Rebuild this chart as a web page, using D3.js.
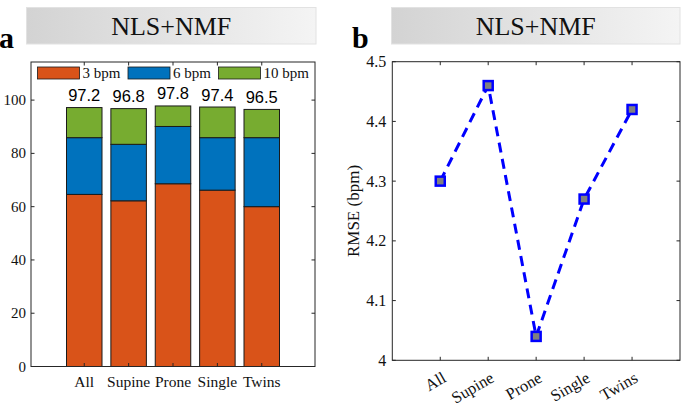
<!DOCTYPE html>
<html><head><meta charset="utf-8">
<script src="https://cdn.jsdelivr.net/npm/d3@7"></script>
<style>body{margin:0;background:#fff}svg{display:block}</style>
</head><body>
<svg id="c" width="685" height="407"></svg>
<script>
const categories = ["All","Supine","Prone","Single","Twins"];
const seriesNames = ["3 bpm","6 bpm","10 bpm"];
const bpm3 = [64.6, 62.2, 68.6, 66.2, 60.0];
const bpm6 = [21.3, 21.2, 21.5, 19.7, 25.9];
const bpm10 = [11.3, 13.4, 7.7, 11.5, 10.6];
const totalLabels = ["97.2","96.8","97.8","97.4","96.5"];
const yTicksA = [0,20,40,60,80,100];
const rmse = [4.30, 4.46, 4.04, 4.27, 4.42];
const yTicksB = [4, 4.1, 4.2, 4.3, 4.4, 4.5];
const colors = ["#D95319","#0072BD","#77AC30"];

const svg = d3.select("#c");
const serif = "'Liberation Serif','Times New Roman',serif";
const sans = "'Liberation Sans',Arial,sans-serif";
const axisCol = "#262626";

const defs = svg.append("defs");
const g = defs.append("linearGradient").attr("id","tg").attr("x1","0").attr("x2","1").attr("y1","0").attr("y2","0");
g.append("stop").attr("offset","0").attr("stop-color","#d3d3d3");
g.append("stop").attr("offset","1").attr("stop-color","#f4f4f4");

function titleBox(x0,x1,label,letter,lx){
  svg.append("rect").attr("x",x0).attr("y",7.5).attr("width",x1-x0).attr("height",36.5)
    .attr("fill","url(#tg)").attr("stroke","#e2e2e2").attr("stroke-width",1);
  svg.append("text").attr("x",(x0+x1)/2).attr("y",35).attr("text-anchor","middle")
    .attr("font-family",serif).attr("font-size",26).attr("fill","#111").text(label);
  svg.append("text").attr("x",lx).attr("y",48).attr("font-family",serif).attr("font-weight","bold")
    .attr("font-size",30).attr("fill","#000").text(letter);
}
titleBox(26.5,316,"NLS+NMF","a",-1);
titleBox(391.5,680,"NLS+NMF","b",352);

// ---------- Panel a ----------
const A = {l:31, r:315, t:62, b:366.5};
const xa = d3.scaleLinear().domain([-0.2,6.2]).range([A.l,A.r]);
const ya = d3.scaleLinear().domain([0,114.3]).range([A.b,A.t]);
const ga = svg.append("g");
const stackData = categories.map((c,i)=>({cat:c, s0:bpm3[i], s1:bpm6[i], s2:bpm10[i]}));
const stack = d3.stack().keys(["s0","s1","s2"])(stackData);
const bw = xa(0.8)-xa(0);
stack.forEach((layer,k)=>{
  ga.selectAll(null).data(layer).enter().append("rect")
    .attr("x",(d,i)=>xa(i+1)-bw/2).attr("width",bw)
    .attr("y",d=>ya(d[1])).attr("height",d=>ya(d[0])-ya(d[1]))
    .attr("fill",colors[k]).attr("stroke","#1a1a1a").attr("stroke-width",1);
});
ga.selectAll(null).data(stackData).enter().append("text")
  .attr("x",(d,i)=>xa(i+1)).attr("y",d=>ya(d.s0+d.s1+d.s2)-6.5)
  .attr("text-anchor","middle").attr("font-family",sans).attr("font-size",16.5).attr("fill","#000")
  .text((d,i)=>totalLabels[i]);
ga.append("rect").attr("x",A.l).attr("y",A.t).attr("width",A.r-A.l).attr("height",A.b-A.t)
  .attr("fill","none").attr("stroke",axisCol).attr("stroke-width",1);
yTicksA.forEach(v=>{
  const y = ya(v);
  ga.append("line").attr("x1",A.l).attr("x2",A.l+3.5).attr("y1",y).attr("y2",y).attr("stroke",axisCol);
  ga.append("line").attr("x1",A.r).attr("x2",A.r-3.5).attr("y1",y).attr("y2",y).attr("stroke",axisCol);
  ga.append("text").attr("x",A.l-5).attr("y",y+5).attr("text-anchor","end")
    .attr("font-family",serif).attr("font-size",15).attr("fill","#111").text(v);
});
categories.forEach((c,i)=>{
  const x = xa(i+1);
  ga.append("line").attr("x1",x).attr("x2",x).attr("y1",A.b).attr("y2",A.b-3.5).attr("stroke",axisCol);
  ga.append("line").attr("x1",x).attr("x2",x).attr("y1",A.t).attr("y2",A.t+3.5).attr("stroke",axisCol);
  ga.append("text").attr("x",x).attr("y",387).attr("text-anchor","middle")
    .attr("font-family",serif).attr("font-size",15.5).attr("fill","#111").text(c);
});
const legX = [37.5,128,218.5];
seriesNames.forEach((n,k)=>{
  ga.append("rect").attr("x",legX[k]).attr("y",67).attr("width",42).attr("height",12)
    .attr("fill",colors[k]).attr("stroke","#1a1a1a").attr("stroke-width",0.8);
  ga.append("text").attr("x",legX[k]+45).attr("y",78).attr("font-family",serif)
    .attr("font-size",15).attr("fill","#111").text(n);
});

// ---------- Panel b ----------
const B = {l:392.3, r:680, t:61.7, b:360.3};
const xb = d3.scaleLinear().domain([0,6]).range([B.l,B.r]);
const yb = d3.scaleLinear().domain([4,4.5]).range([B.b,B.t]);
const gb = svg.append("g");
gb.append("rect").attr("x",B.l).attr("y",B.t).attr("width",B.r-B.l).attr("height",B.b-B.t)
  .attr("fill","none").attr("stroke",axisCol).attr("stroke-width",1);
yTicksB.forEach(v=>{
  const y = yb(v);
  gb.append("line").attr("x1",B.l).attr("x2",B.l+3.5).attr("y1",y).attr("y2",y).attr("stroke",axisCol);
  gb.append("line").attr("x1",B.r).attr("x2",B.r-3.5).attr("y1",y).attr("y2",y).attr("stroke",axisCol);
  gb.append("text").attr("x",B.l-6).attr("y",y+5.5).attr("text-anchor","end")
    .attr("font-family",serif).attr("font-size",16).attr("fill","#111").text(d3.format("")(v));
});
categories.forEach((c,i)=>{
  const x = xb(i+1);
  gb.append("line").attr("x1",x).attr("x2",x).attr("y1",B.b).attr("y2",B.b-3.5).attr("stroke",axisCol);
  gb.append("line").attr("x1",x).attr("x2",x).attr("y1",B.t).attr("y2",B.t+3.5).attr("stroke",axisCol);
  gb.append("text").attr("transform",`translate(${x+7},${381}) rotate(-30)`).attr("text-anchor","end")
    .attr("font-family",serif).attr("font-size",16.5).attr("fill","#111").text(c);
});
gb.append("text").attr("transform",`translate(359,${(B.t+B.b)/2}) rotate(-90)`).attr("text-anchor","middle")
  .attr("font-family",serif).attr("font-size",17).attr("fill","#111").text("RMSE (bpm)");
const line = d3.line().x((d,i)=>xb(i+1)).y(d=>yb(d));
gb.append("path").attr("d",line(rmse)).attr("fill","none").attr("stroke","#0000ff")
  .attr("stroke-width",3).attr("stroke-dasharray","10,6.5");
gb.selectAll(null).data(rmse).enter().append("rect")
  .attr("x",(d,i)=>xb(i+1)-4.5).attr("y",d=>yb(d)-4.5).attr("width",9).attr("height",9)
  .attr("fill","#808080").attr("stroke","#0000ff").attr("stroke-width",2.5);
</script>
</body></html>
